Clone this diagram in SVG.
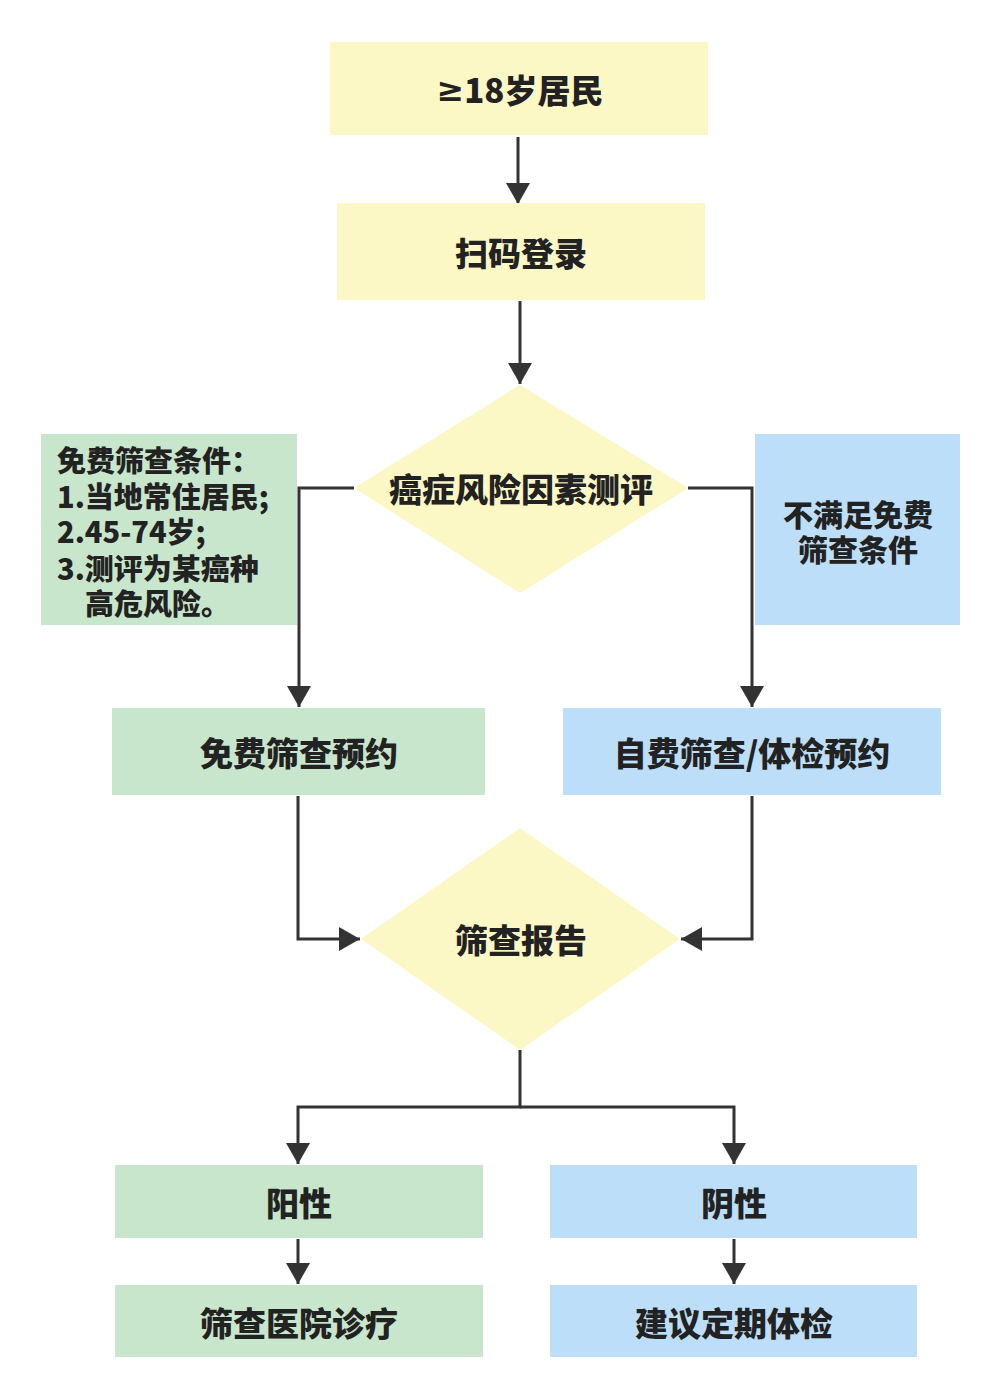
<svg xmlns="http://www.w3.org/2000/svg" width="999" height="1399" viewBox="0 0 999 1399">
<defs>
<marker id="ah" markerWidth="8" markerHeight="8" refX="7" refY="4" orient="auto" markerUnits="strokeWidth"><path d="M0,0 L7,4 L0,8 Z" fill="#333"/></marker>
<style>
.y{fill:#fcf8c6}.g{fill:#c8e6cb}.b{fill:#bcdef8}
.t{font-family:"Noto Sans CJK SC","Noto Sans",sans-serif;font-weight:900;fill:#222;text-anchor:middle;dominant-baseline:central}
.s{font-size:33px}.m{font-size:29px}.r{font-size:30px}
.l{text-anchor:start}
.c{fill:none;stroke:#333;stroke-width:3;marker-end:url(#ah)}
</style>
</defs>
<rect width="999" height="1399" fill="#fff"/>
<g id="connectors">
<path class="c" d="M518,137 V204"/>
<path class="c" d="M520,301 V384"/>
<path class="c" d="M354,488 H299 V707"/>
<path class="c" d="M688,488 H752 V707"/>
<path class="c" d="M298,796 V939 H360"/>
<path class="c" d="M752,796 V939 H681"/>
<path class="c" d="M520,1050 V1107 H298 V1164"/>
<path class="c" d="M520,1107 H734 V1164"/>
<path class="c" d="M298,1239 V1284"/>
<path class="c" d="M734,1239 V1284"/>
</g>
<g id="n1"><rect class="y" x="330" y="42" width="378" height="93"/><text class="t s" x="520" y="89"><tspan style="font-family:'DejaVu Sans',sans-serif;font-weight:bold">≥</tspan>18岁居民</text></g>
<g id="n2"><rect class="y" x="337" y="203" width="368" height="97"/><text class="t s" x="521" y="252">扫码登录</text></g>
<g id="n3"><polygon class="y" points="520,385 688,488 520,593 354,488"/><text class="t s" x="521" y="488">癌症风险因素测评</text></g>
<g id="n4"><rect class="g" x="41" y="434" width="256" height="191"/>
<text class="t m l" x="57" y="459">免费筛查条件：<tspan x="57" dy="36">1.当地常住居民;</tspan><tspan x="57" dy="35">2.45-74岁;</tspan><tspan x="57" dy="37">3.测评为某癌种</tspan><tspan x="85" dy="35">高危风险。</tspan></text></g>
<g id="n5"><rect class="b" x="755" y="434" width="205" height="191"/>
<text class="t r" x="858" y="513">不满足免费<tspan x="858" dy="35">筛查条件</tspan></text></g>
<g id="n6"><rect class="g" x="112" y="708" width="373" height="87"/><text class="t s" x="299" y="752">免费筛查预约</text></g>
<g id="n7"><rect class="b" x="563" y="708" width="378" height="87"/><text class="t s" x="752" y="752">自费筛查/体检预约</text></g>
<g id="n8"><polygon class="y" points="520,828 680,939 520,1050 361,939"/><text class="t s" x="521" y="939">筛查报告</text></g>
<g id="n9"><rect class="g" x="115" y="1165" width="368" height="73"/><text class="t s" x="299" y="1202">阳性</text></g>
<g id="n10"><rect class="b" x="550" y="1165" width="367" height="73"/><text class="t s" x="734" y="1202">阴性</text></g>
<g id="n11"><rect class="g" x="115" y="1285" width="368" height="72"/><text class="t s" x="299" y="1322">筛查医院诊疗</text></g>
<g id="n12"><rect class="b" x="550" y="1285" width="367" height="72"/><text class="t s" x="734" y="1322">建议定期体检</text></g>
</svg>
